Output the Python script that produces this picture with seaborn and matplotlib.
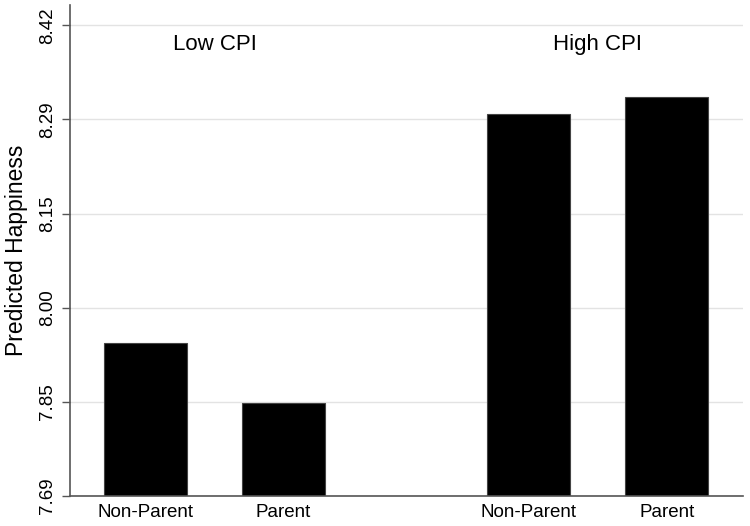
import numpy as np
import matplotlib
matplotlib.use("Agg")
import matplotlib.pyplot as plt
import seaborn as sns
import pandas as pd

# values (in the axis' own units)
cpi_groups = ["Low CPI", "Low CPI", "High CPI", "High CPI"]
parent_status = ["Non-Parent", "Parent", "Non-Parent", "Parent"]
happiness = [7.927, 7.834, 8.282, 8.308]
ytick_labels = ["7.69", "7.85", "8.00", "8.15", "8.29", "8.42"]

df = pd.DataFrame({"CPI": cpi_groups, "Status": parent_status, "Happiness": happiness})

sns.set_style("white")
plt.rcParams["font.family"] = ["Liberation Sans", "DejaVu Sans"]
plt.rcParams["text.color"] = "black"
plt.rcParams["axes.labelcolor"] = "black"
plt.rcParams["xtick.color"] = "black"
plt.rcParams["ytick.color"] = "black"

fig = plt.figure(figsize=(7.5, 5.26), dpi=100)
ax = fig.add_axes([0.0933, 0.057, 0.898, 0.933])

sns.barplot(data=df, x="CPI", y="Happiness", hue="Status", order=["Low CPI", "High CPI"],
            palette=["black", "black"], width=0.72, gap=0.40, edgecolor="#444444",
            linewidth=0.8, legend=False, ax=ax)

ax.set_ylim(7.69, 8.451)
ax.set_xlim(-0.377, 1.38)
ax.set_yticks(np.linspace(7.69, 8.42, 6))
ax.set_yticklabels(ytick_labels, rotation=90, va="center", fontsize=13.5)
ax.yaxis.grid(True, color="#e3e3e3", linewidth=1)
ax.set_axisbelow(True)

# tick labels under each bar
centers = sorted(p.get_x() + p.get_width() / 2 for p in ax.patches if p.get_height() > 0)
ax.set_xticks(centers)
ax.set_xticklabels(["Non-Parent", "Parent", "Non-Parent", "Parent"], fontsize=13.5)
ax.tick_params(axis="x", length=0, pad=6)
ax.tick_params(axis="y", length=6, width=1, color="#555555", direction="out", left=True, pad=4)

ax.set_xlabel("")
ax.set_ylabel("Predicted Happiness", fontsize=16.5, labelpad=8)

for xpos, label in zip([0, 1], ["Low CPI", "High CPI"]):
    ax.text(xpos, 8.39, label, ha="center", va="center", fontsize=16)

sns.despine(ax=ax)
for side in ["left", "bottom"]:
    ax.spines[side].set_color("#555555")
    ax.spines[side].set_linewidth(1.2)

fig.savefig("out.png", dpi=100)
